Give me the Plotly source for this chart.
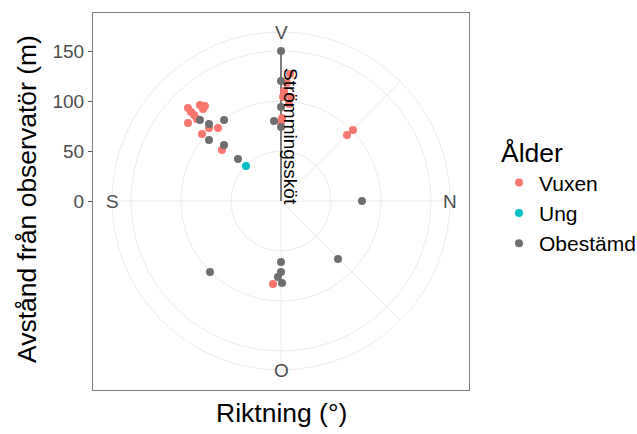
import plotly.graph_objects as go
import math

# ---------------- data (polar: direction in degrees clockwise from "V", distance in m)
vuxen_theta = [315, 314.7, 314.7, 314.3, 319.8, 321.3, 319.7, 310, 315.4, 310.3, 319.2, 310.8,
               4.1, 2.9, 1.1, 5.5, 4.7, 1.6, 0.7, 0,
               45, 45.4, 185.5]
vuxen_r = [131.5, 126.6, 122.3, 117.4, 125.6, 121.7, 120.6, 121.4, 102.5, 103.6, 96.4, 78,
           127.3, 118.2, 104, 104.5, 97.3, 110, 83, 79,
           93.3, 101.1, 83.4]

ung_theta = [315]
ung_r = [49.5]

obest_theta = [315, 316.9, 324.9, 310.3, 314.5, 314.3,
               0, 0, 0, 355, 0,
               90, 135.5, 180, 180, 182.3, 179.3, 225]
obest_r = [114.6, 105.4, 99, 94.4, 79.9, 60.1,
           150, 120, 94, 80.3, 74,
           81, 81.3, 61, 71, 76.1, 82, 100.4]

# net (Strömmingssköt) segment
net_theta = [0, 0]
net_r = [0, 150]
net_label = "Strömmingssköt"

# axis ticks / labels
r_ticks = [0, 50, 100, 150]
r_grid = [50, 100, 150]
theta_grid = [0, 45, 90, 135, 180, 270]
dir_labels = ["V", "N", "O", "S"]
dir_angles = [0, 90, 180, 270]
legend_names = ["Vuxen", "Ung", "Obestämd"]
colors = ["#F8766D", "#00BFC4", "#6E6E6E"]

FONT = "Liberation Sans, Arial, sans-serif"
R_OUTER = 169

fig = go.Figure()

fig.add_trace(go.Scatterpolar(r=net_r, theta=net_theta, mode="lines",
                              line=dict(color="#555555", width=1.5),
                              showlegend=False, hoverinfo="skip"))

for name, th, rr, col in [(legend_names[0], vuxen_theta, vuxen_r, colors[0]),
                          (legend_names[1], ung_theta, ung_r, colors[1]),
                          (legend_names[2], obest_theta, obest_r, colors[2])]:
    fig.add_trace(go.Scatterpolar(r=rr, theta=th, mode="markers", name=name,
                                  marker=dict(color=col, size=8, line=dict(width=0))))

# invisible cartesian trace to carry the panel axes
fig.add_trace(go.Scatter(x=[0], y=[0], mode="markers", marker=dict(opacity=0),
                         showlegend=False, hoverinfo="skip"))

annotations = []
for lab, ang in zip(dir_labels, dir_angles):
    a = math.radians(ang)
    annotations.append(dict(x=R_OUTER * math.sin(a), y=R_OUTER * math.cos(a), xref="x", yref="y",
                            text=lab, showarrow=False, xanchor="center", yanchor="middle",
                            font=dict(family=FONT, size=19, color="#4D4D4D")))

annotations.append(dict(x=10, y=65, xref="x", yref="y", text=net_label, textangle=90,
                        showarrow=False, xanchor="center", yanchor="middle",
                        font=dict(family=FONT, size=19, color="black")))

annotations.append(dict(x=-0.1755, y=0.5066, xref="paper", yref="paper",
                        text="Avstånd från observatör (m)", textangle=-90, showarrow=False,
                        xanchor="center", yanchor="middle",
                        font=dict(family=FONT, size=26.5, color="black")))
annotations.append(dict(x=0.5, y=-0.061, xref="paper", yref="paper",
                        text="Riktning (°)", showarrow=False,
                        xanchor="center", yanchor="middle",
                        font=dict(family=FONT, size=26.5, color="black")))

fig.update_layout(
    width=637, height=434,
    margin=dict(l=93, r=168, t=13, b=44, autoexpand=False),
    paper_bgcolor="white", plot_bgcolor="white",
    font=dict(family=FONT),
    polar=dict(
        domain=dict(x=[0.0505, 0.9495], y=[0.0531, 0.9496]),
        bgcolor="rgba(0,0,0,0)",
        radialaxis=dict(range=[0, R_OUTER], tickvals=r_grid, showticklabels=False, ticks="",
                        showline=False, gridcolor="#EBEBEB", gridwidth=1, layer="below traces"),
        angularaxis=dict(rotation=90, direction="clockwise", tickvals=theta_grid,
                         showticklabels=False, ticks="", showline=True, linecolor="#EBEBEB",
                         linewidth=1, gridcolor="#EBEBEB", gridwidth=1, layer="below traces"),
    ),
    xaxis=dict(range=[-188, 188], showgrid=False, zeroline=False, showticklabels=False,
               ticks="", showline=True, mirror=True, linecolor="#7F7F7F", linewidth=1.2,
               fixedrange=True),
    yaxis=dict(range=[-189, 188], showgrid=False, zeroline=False, tickvals=r_ticks,
               ticks="outside", ticklen=4, tickcolor="#555555", tickwidth=1,
               tickfont=dict(family=FONT, size=19, color="#4D4D4D"),
               showline=True, mirror=True, linecolor="#7F7F7F", linewidth=1.2,
               fixedrange=True),
    legend=dict(x=1.0798, y=0.695, xanchor="left", yanchor="top",
                title=dict(text="Ålder", font=dict(family=FONT, size=26.5, color="black")),
                font=dict(family=FONT, size=21, color="black"),
                itemwidth=30, tracegroupgap=0),
    annotations=annotations,
    showlegend=True,
)

fig.write_html("out.html")
